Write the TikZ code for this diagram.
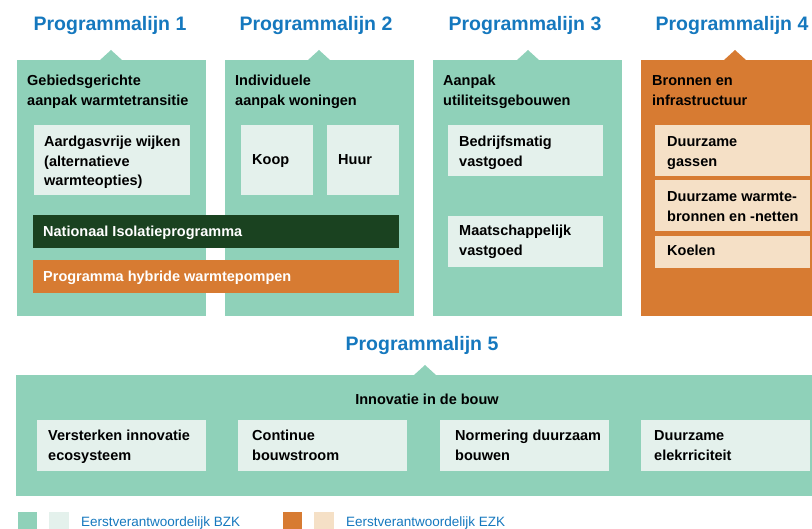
\documentclass[tikz,border=0pt]{standalone}
\usepackage{fontspec}
\setmainfont{Liberation Sans}
\definecolor{pgreen}{RGB}{143,209,185}
\definecolor{plight}{RGB}{228,241,236}
\definecolor{pdark}{RGB}{26,66,32}
\definecolor{porange}{RGB}{215,123,50}
\definecolor{plorange}{RGB}{245,224,198}
\definecolor{pblue}{RGB}{21,120,190}
\tikzset{
  hdr/.style={font=\bfseries\fontsize{19.5}{22}\selectfont, text=pblue, anchor=base, inner sep=0pt},
  txt/.style={font=\bfseries\fontsize{14.5}{19.5}\selectfont, align=left, anchor=base west, inner sep=0pt},
  wtxt/.style={txt, text=white},
  legtxt/.style={font=\fontsize{13.5}{16}\selectfont, text=pblue, anchor=base west, inner sep=0pt},
}
\newcommand{\panel}[6]{% x1,y1,x2,y2,apexx,color
  \fill[#6] (#1,#2) rectangle (#3,#4);
  \fill[#6] (#5-11.5,#2+0.5) -- (#5,#2-10) -- (#5+11.5,#2+0.5) -- cycle;
}
\begin{document}
\begin{tikzpicture}[x=1pt,y=-1pt]
\useasboundingbox (0,0) rectangle (812,529);
% headers
\node[hdr] (h1) at (110,31) {Programmalijn 1};
\node[hdr] (h2) at (316,31) {Programmalijn 2};
\node[hdr] (h3) at (525,31) {Programmalijn 3};
\node[hdr] (h4) at (732,31) {Programmalijn 4};
\node[hdr] (h5) at (422,351) {Programmalijn 5};
% panels
\panel{17}{60}{206}{316}{111}{pgreen}
\panel{225}{60}{414}{316}{319}{pgreen}
\panel{433}{60}{622}{316}{528}{pgreen}
\panel{641}{60}{812}{316}{735}{porange}
\panel{16}{375}{812}{496}{425}{pgreen}
% panel titles (y = baseline of last line)
\node[txt] (t1) at (27,105.5) {Gebiedsgerichte\\aanpak warmtetransitie};
\node[txt] (t2) at (235,105.5) {Individuele\\aanpak woningen};
\node[txt] (t3) at (443,105.5) {Aanpak\\utiliteitsgebouwen};
\node[txt] (t4) at (652,105.5) {Bronnen en\\infrastructuur};
% inner boxes column 1-2
\fill[plight] (34,125) rectangle (190,195);
\fill[plight] (241,125) rectangle (313,195);
\fill[plight] (327,125) rectangle (399,195);
\node[txt] (b1) at (44,186) {Aardgasvrije wijken\\(alternatieve\\warmteopties)};
\node[txt] (b2) at (252,165) {Koop};
\node[txt] (b3) at (338,165) {Huur};
\fill[pdark] (33,215) rectangle (399,248);
\fill[porange] (33,260) rectangle (399,293);
\node[wtxt] (nip) at (43,237) {Nationaal Isolatieprogramma};
\node[wtxt] (phw) at (43,282) {Programma hybride warmtepompen};
% column 3
\fill[plight] (448,125) rectangle (603,176);
\fill[plight] (448,216) rectangle (603,267);
\node[txt] (b4) at (459,166.5) {Bedrijfsmatig\\vastgoed};
\node[txt] (b5) at (459,255.5) {Maatschappelijk\\vastgoed};
% column 4
\fill[plorange] (655,125) rectangle (810,176);
\fill[plorange] (655,180) rectangle (810,231);
\fill[plorange] (655,236) rectangle (810,268);
\node[txt] (b6) at (667,166.5) {Duurzame\\gassen};
\node[txt] (b7) at (667,221.5) {Duurzame warmte-\\bronnen en -netten};
\node[txt] (b8) at (667,256) {Koelen};
% row 5
\node[txt, anchor=base] (t5) at (427,405) {Innovatie in de bouw};
\fill[plight] (37,420) rectangle (206,471);
\fill[plight] (238,420) rectangle (407,471);
\fill[plight] (440,420) rectangle (609,471);
\fill[plight] (641,420) rectangle (810,471);
\node[txt] (c1) at (48,460.5) {Versterken innovatie\\ecosysteem};
\node[txt] (c2) at (252,460.5) {Continue\\bouwstroom};
\node[txt] (c3) at (455,460.5) {Normering duurzaam\\bouwen};
\node[txt] (c4) at (654,460.5) {Duurzame\\elekrriciteit};
% legend
\fill[pgreen] (18,512) rectangle (37,529);
\fill[plight] (49,512) rectangle (69,529);
\node[legtxt] (l1) at (81,526) {Eerstverantwoordelijk BZK};
\fill[porange] (283,512) rectangle (302,529);
\fill[plorange] (314,512) rectangle (334,529);
\node[legtxt] (l2) at (346,526) {Eerstverantwoordelijk EZK};
\end{tikzpicture}
\end{document}
